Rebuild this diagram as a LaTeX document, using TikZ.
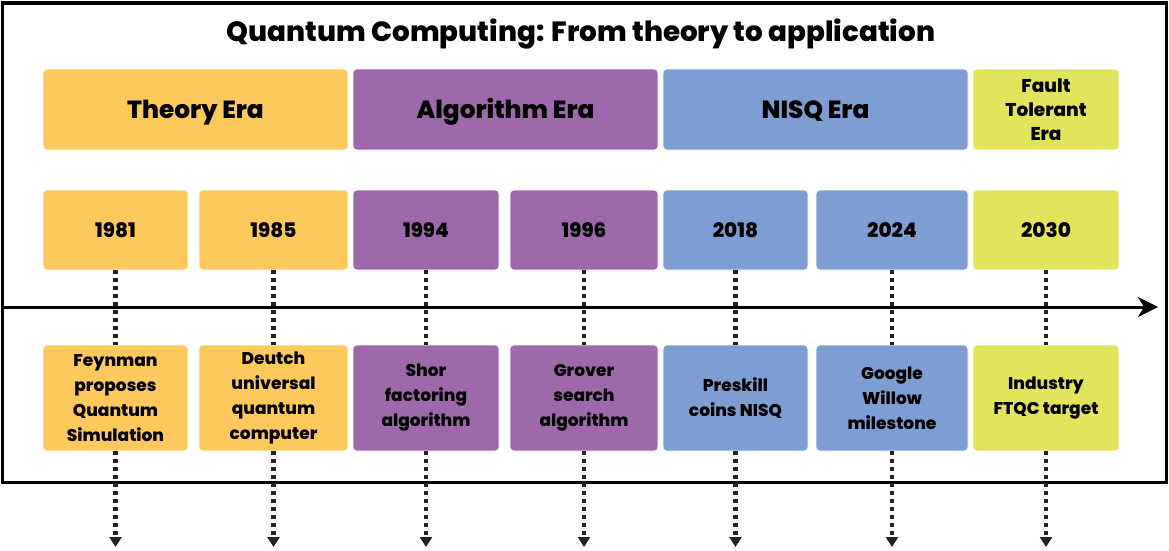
\documentclass[tikz,border=0pt]{standalone}
\usepackage{fontspec}
\setmainfont{Poppins}[BoldFont={* ExtraBold}]
\usetikzlibrary{arrows.meta}
\definecolor{cTheory}{HTML}{FEC95C}
\definecolor{cAlgo}{HTML}{9D69AB}
\definecolor{cNisq}{HTML}{7E9DD3}
\definecolor{cFt}{HTML}{E2E45C}
\definecolor{cDot}{HTML}{222222}
\tikzset{
  box/.style={rectangle, rounded corners=4pt, inner sep=0pt, align=center, text=black, draw=white, line width=0.6pt},
  erabox/.style={box, minimum height=81pt, text height=17pt, text depth=0pt, font=\bfseries\fontsize{24.8}{28}\selectfont},
  ftbox/.style={box, minimum height=81pt, font=\bfseries\fontsize{18.5}{24}\selectfont},
  yearbox/.style={box, minimum height=80pt, font=\bfseries\fontsize{20}{22}\selectfont},
  evbox/.style={box, minimum height=106pt, font=\bfseries\fontsize{17}{25}\selectfont},
  dots/.style={line width=4.2pt, dash pattern=on 4pt off 4pt, draw=cDot},
  dotarrow/.style={dots, -{Triangle[length=10pt,width=12pt]}},
  axisline/.style={line width=3pt, -{Stealth[length=20pt,width=20pt,inset=6pt]}},
}
\begin{document}
\begin{tikzpicture}[x=1pt,y=-1pt]
\useasboundingbox (0,0) rectangle (1169,551);
% frame
\draw[line width=3.5pt] (2.5,3) rectangle (1166.5,482.5);
% title
\node[font=\bfseries\fontsize{27.8}{30}\selectfont] (title) at (581,34) {Quantum Computing: From theory to application};
% eras
\node[erabox, fill=cTheory, minimum width=305pt] (eTheory) at (195.5,109.5) {Theory Era};
\node[erabox, fill=cAlgo, minimum width=305pt] (eAlgo) at (505.5,109.5) {Algorithm Era};
\node[erabox, fill=cNisq, minimum width=305pt] (eNisq) at (815.5,109.5) {NISQ Era};
\node[ftbox, fill=cFt, minimum width=146pt] (eFt) at (1046,109.5) {Fault\\Tolerant\\Era};
% years
\node[yearbox, fill=cTheory, minimum width=145pt] (y1) at (115.5,230) {1981};
\node[yearbox, fill=cTheory, minimum width=149pt] (y2) at (273.5,230) {1985};
\node[yearbox, fill=cAlgo, minimum width=146pt] (y3) at (426,230) {1994};
\node[yearbox, fill=cAlgo, minimum width=148pt] (y4) at (584,230) {1996};
\node[yearbox, fill=cNisq, minimum width=145pt] (y5) at (735.5,230) {2018};
\node[yearbox, fill=cNisq, minimum width=152pt] (y6) at (892,230) {2024};
\node[yearbox, fill=cFt, minimum width=146pt] (y7) at (1046,230) {2030};
% axis
\coordinate (axL) at (4,307);
\coordinate (axR) at (1158,307);
\coordinate (bottom) at (0,547);
% events
\node[evbox, fill=cTheory, minimum width=145pt] (v1) at (115.5,398) {Feynman\\proposes\\Quantum\\Simulation};
\node[evbox, fill=cTheory, minimum width=149pt] (v2) at (273.5,398) {Deutch\\universal\\quantum\\computer};
\node[evbox, fill=cAlgo, minimum width=146pt] (v3) at (426,398) {Shor\\factoring\\algorithm};
\node[evbox, fill=cAlgo, minimum width=148pt] (v4) at (584,398) {Grover\\search\\algorithm};
\node[evbox, fill=cNisq, minimum width=145pt] (v5) at (735.5,398) {Preskill\\coins NISQ};
\node[evbox, fill=cNisq, minimum width=152pt] (v6) at (892,398) {Google\\Willow\\milestone};
\node[evbox, fill=cFt, minimum width=146pt] (v7) at (1046,398) {Industry\\FTQC target};
\foreach \i in {1,...,7} {
  \draw[dots] (y\i.south) -- (v\i.north);
  \draw[dotarrow] (v\i.south) -- (v\i.south |- bottom);
}
\draw[axisline] (axL) -- (axR);
\end{tikzpicture}
\end{document}
